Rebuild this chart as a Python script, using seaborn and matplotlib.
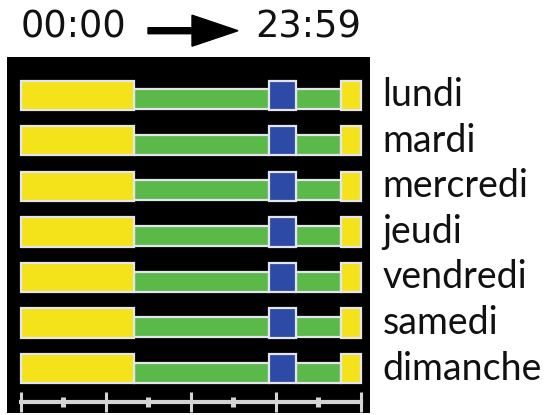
import numpy as np
import pandas as pd
import matplotlib
matplotlib.use("Agg")
import matplotlib.pyplot as plt
from matplotlib.patches import FancyArrow
import seaborn as sns

# ---------------- data ----------------
days = ["lundi", "mardi", "mercredi", "jeudi", "vendredi", "samedi", "dimanche"]

# hours (0 -> 24) of each coloured segment, one value per day
sleep_am_start = [0, 0, 0, 0, 0, 0, 0]
sleep_am_end = [8, 8, 8, 8, 8, 8, 8]
awake_start = [8, 8, 8, 8, 8, 8, 8]
awake_end = [17.5, 17.5, 17.5, 17.5, 17.5, 17.5, 17.5]
evening_start = [17.5, 17.5, 17.5, 17.5, 17.5, 17.5, 17.5]
evening_end = [19.4, 19.4, 19.4, 19.4, 19.4, 19.4, 19.4]
awake2_start = [19.4, 19.4, 19.4, 19.4, 19.4, 19.4, 19.4]
awake2_end = [22.6, 22.6, 22.6, 22.6, 22.6, 22.6, 22.6]
sleep_pm_start = [22.6, 22.6, 22.6, 22.6, 22.6, 22.6, 22.6]
sleep_pm_end = [24, 24, 24, 24, 24, 24, 24]

scale_major = [0, 6, 12, 18, 24]
scale_minor = [3, 9, 15, 21]
title_left = "00:00"
title_right = "23:59"

# ---------------- style ----------------
sns.set_theme(style="white")
plt.rcParams["font.family"] = ["Lato", "DejaVu Sans"]

YELLOW = "#f4e31b"
GREEN = "#5bb94a"
BLUE = "#2e4aa7"
EDGE = "#e4e4ec"
SCALE = "#d4d4d4"
TALL = 0.64
SHORT = 0.44
SHORT_OFFSET = 0.09

W, H = 548, 415
fig = plt.figure(figsize=(W / 100, H / 100), dpi=100)
fig.patch.set_facecolor("white")
ax = fig.add_axes([7 / W, 2 / H, 363 / W, 356 / H])
ax.set_facecolor("black")


def segment(start, end, color, thick):
    df = pd.DataFrame({"day": days, "dur": np.array(end) - np.array(start)})
    sns.barplot(data=df, x="dur", y="day", orient="h", order=days, color=color,
                width=thick, left=start, edgecolor=EDGE, linewidth=1.6,
                errorbar=None, saturation=1, ax=ax)
    return ax.containers[-1]


# short green (awake) bars first, shifted to sit on the baseline of the tall ones
for s, e in [(awake_start, awake_end), (awake2_start, awake2_end)]:
    cont = segment(s, e, GREEN, SHORT)
    for p in cont.patches:
        p.set_y(p.get_y() + SHORT_OFFSET)

segment(sleep_am_start, sleep_am_end, YELLOW, TALL)
segment(evening_start, evening_end, BLUE, TALL)
segment(sleep_pm_start, sleep_pm_end, YELLOW, TALL)

ax.set_xlim(-0.97, 24.66)
ax.set_ylim(6.975, -0.84)
ax.set_xlabel("")
ax.set_ylabel("")

for side in ["left", "right", "top"]:
    ax.spines[side].set_visible(False)
sp = ax.spines["bottom"]
sp.set_position(("data", 6.727))
sp.set_bounds(0, 24)
sp.set_color(SCALE)
sp.set_linewidth(3)
ax.set_xticks(scale_major)
ax.set_xticks(scale_minor, minor=True)
ax.tick_params(axis="x", which="major", direction="inout", length=15, width=2.2,
               color=SCALE, labelbottom=False, bottom=True)
ax.tick_params(axis="x", which="minor", direction="inout", length=6.5, width=3.6,
               color=SCALE, labelbottom=False, bottom=True)

ax.yaxis.tick_right()
ax.tick_params(axis="y", length=0, pad=9, labelsize=27, labelcolor="#111111")
for lbl in ax.get_yticklabels():
    lbl.set_verticalalignment("center")

# title: 00:00 --> 23:59
fig.text(21 / W, 1 - 38 / H, title_left, ha="left", va="baseline", fontsize=26.5,
         family="DejaVu Sans", color="#111111")
fig.text(255 / W, 1 - 38 / H, title_right, ha="left", va="baseline", fontsize=26.5,
         family="DejaVu Sans", color="#111111")
arrow = FancyArrow(148 / W, 1 - 30.7 / H, (238 - 148) / W, 0, width=6 / H,
                   head_width=31 / H, head_length=46 / W, length_includes_head=True,
                   color="black", transform=fig.transFigure)
fig.add_artist(arrow)

fig.savefig("out.png", dpi=100)
